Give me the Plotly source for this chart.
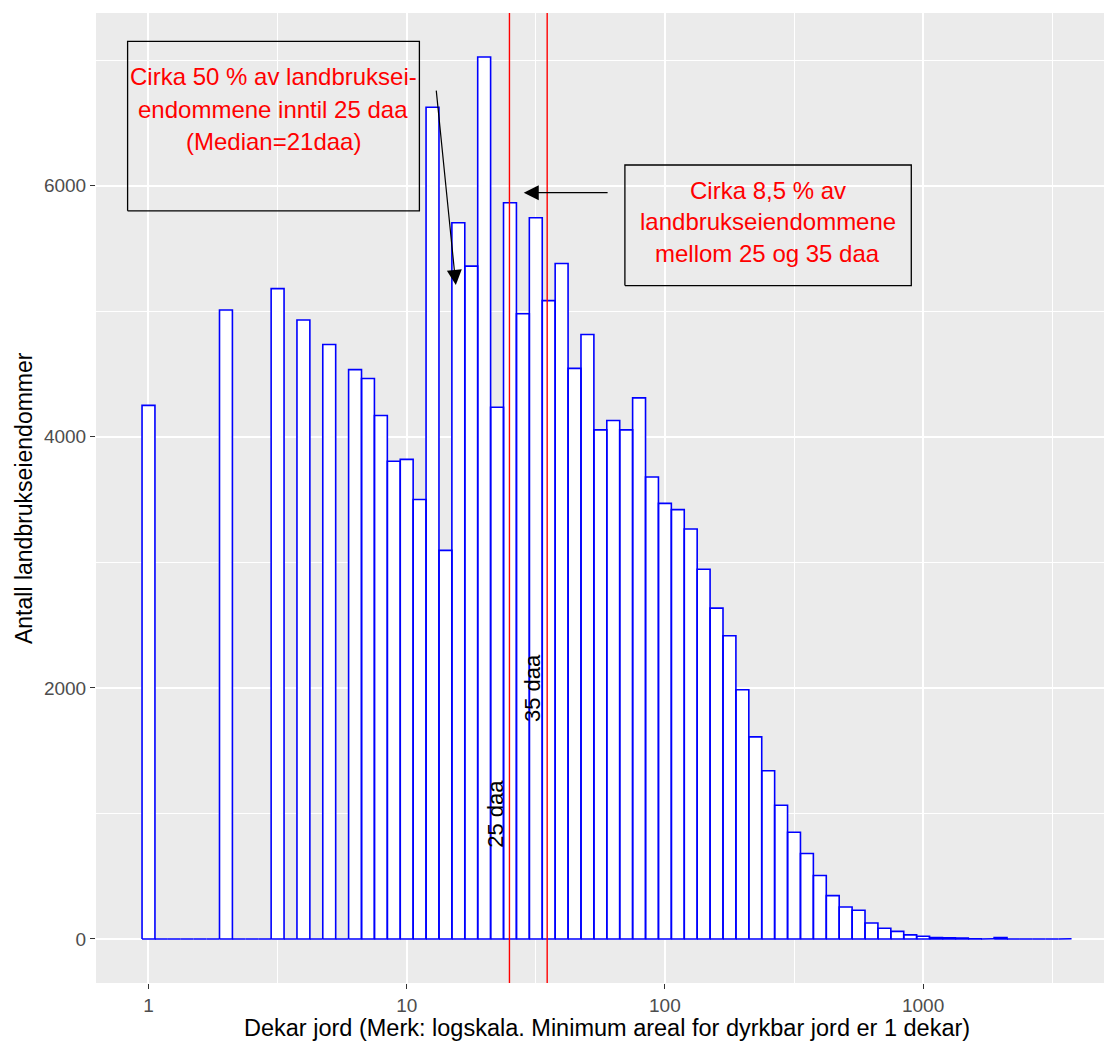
import math
import plotly.graph_objects as go

# Histogram of farm properties by cultivated area (decares), log10 bins of width 0.05
bin_width_log10 = 0.05
bin_index = list(range(72))
counts = [
    4250, 0, 0, 0, 0, 0, 5010, 0, 0, 0,
    5180, 0, 4930, 0, 4735, 0, 4535, 4465, 4170, 3805,
    3820, 3500, 6625, 3095, 5705, 5360, 7025, 4235, 5865, 4980,
    5745, 5085, 5380, 4545, 4815, 4055, 4130, 4055, 4310, 3680,
    3470, 3420, 3265, 2945, 2635, 2415, 1985, 1610, 1340, 1065,
    850, 680, 505, 345, 255, 228, 127, 85, 60, 32,
    21, 12, 10, 8, 2, 1, 12, 0, 0, 0,
    0, 1,
]

x_tick_values = [1, 10, 100, 1000]
x_tick_labels = ["1", "10", "100", "1000"]
y_tick_values = [0, 2000, 4000, 6000]
y_tick_labels = ["0", "2000", "4000", "6000"]

limit_values = [25, 35]
limit_labels = ["25 daa", "35 daa"]
limit_label_y = [1000, 2000]

FONT = "Liberation Sans, Arial, sans-serif"

# outline path of every histogram bin (zero-count bins collapse to the baseline)
hx, hy = [], []
for k, c in zip(bin_index, counts):
    lo = 10 ** (k * bin_width_log10 - bin_width_log10 / 2)
    hi = 10 ** (k * bin_width_log10 + bin_width_log10 / 2)
    hx += [lo, lo, hi, hi, lo, None]
    hy += [0, c, c, 0, 0, None]

fig = go.Figure()
fig.add_trace(go.Scatter(
    x=hx, y=hy, mode="lines", fill="toself", fillcolor="white",
    line=dict(color="#0000FF", width=1.6), hoverinfo="skip", showlegend=False,
))

y_lo, y_hi = -351, 7376
for v in limit_values:
    fig.add_trace(go.Scatter(
        x=[v, v], y=[y_lo, y_hi], mode="lines",
        line=dict(color="#FF0000", width=1.4), hoverinfo="skip", showlegend=False,
    ))

# annotation boxes
def rect(x0, x1, y0, y1):
    fig.add_trace(go.Scatter(
        x=[x0, x1, x1, x0, x0], y=[y0, y0, y1, y1, y0], mode="lines",
        line=dict(color="black", width=1.3), hoverinfo="skip", showlegend=False,
    ))

rect(0.83, 11.2, 5800, 7150)
rect(70, 900, 5205, 6165)

annotations = []

def text(xv, yv, s, size=24, color="#FF0000"):
    annotations.append(dict(
        x=math.log10(xv), y=yv, xref="x", yref="y", text=s, showarrow=False,
        font=dict(family=FONT, size=size, color=color),
        xanchor="center", yanchor="middle",
    ))

for s, yv in zip(["Cirka 50 % av landbruksei-", "endommene inntil 25 daa", "(Median=21daa)"],
                 [6868, 6608, 6350]):
    text(3.04, yv, s)
for s, yv in zip(["Cirka 8,5 % av", "landbrukseiendommene", "mellom 25 og 35 daa"],
                 [5966, 5713, 5462]):
    text(250.7, yv, s)

# arrows
for (tx, ty), (fx, fy) in [((15.5, 5210), (13.0, 6770)), ((28.4, 5945), (60.8, 5945))]:
    annotations.append(dict(
        x=math.log10(tx), y=ty, xref="x", yref="y",
        ax=math.log10(fx), ay=fy, axref="x", ayref="y",
        text="", showarrow=True, arrowhead=2, arrowsize=2.5, arrowwidth=1.2,
        arrowcolor="black", standoff=0, startstandoff=0,
    ))

# rotated labels next to the limit lines
for v, lab, yv in zip(limit_values, limit_labels, limit_label_y):
    annotations.append(dict(
        x=math.log10(v), y=yv, xref="x", yref="y", text=lab, showarrow=False,
        textangle=-90, xshift=-14,
        font=dict(family=FONT, size=22, color="black"),
        xanchor="center", yanchor="middle",
    ))

# axis titles
annotations.append(dict(
    x=0.5067, y=-0.0465, xref="paper", yref="paper",
    text="Dekar jord (Merk: logskala. Minimum areal for dyrkbar jord er 1 dekar)",
    showarrow=False, font=dict(family=FONT, size=23.5, color="black"),
    xanchor="center", yanchor="middle",
))
annotations.append(dict(
    x=-0.0714, y=0.5, xref="paper", yref="paper", text="Antall landbrukseiendommer",
    showarrow=False, textangle=-90, font=dict(family=FONT, size=23, color="black"),
    xanchor="center", yanchor="middle",
))

fig.update_layout(
    width=1104, height=1043,
    margin=dict(l=96, r=0, t=13, b=60),
    paper_bgcolor="white", plot_bgcolor="#EBEBEB",
    font=dict(family=FONT),
    annotations=annotations,
    xaxis=dict(
        type="log", range=[-0.2033, 3.7006],
        tickmode="array", tickvals=x_tick_values, ticktext=x_tick_labels,
        ticks="outside", ticklen=5, tickwidth=1.3, tickcolor="#333333",
        tickfont=dict(family=FONT, size=19, color="#4D4D4D"),
        showgrid=True, gridcolor="white", gridwidth=1.5,
        minor=dict(tickmode="array", tickvals=[10 ** 0.5, 10 ** 1.5, 10 ** 2.5, 10 ** 3.5],
                   showgrid=True, gridcolor="white", gridwidth=0.8, ticklen=0),
        zeroline=False, showline=False,
    ),
    yaxis=dict(
        range=[y_lo, y_hi],
        tickmode="array", tickvals=y_tick_values, ticktext=y_tick_labels,
        ticks="outside", ticklen=5, tickwidth=1.3, tickcolor="#333333",
        tickfont=dict(family=FONT, size=19, color="#4D4D4D"),
        showgrid=True, gridcolor="white", gridwidth=1.5,
        minor=dict(tickmode="array", tickvals=[1000, 3000, 5000, 7000],
                   showgrid=True, gridcolor="white", gridwidth=0.8, ticklen=0),
        zeroline=False, showline=False,
    ),
)

fig.write_html("out.html")
